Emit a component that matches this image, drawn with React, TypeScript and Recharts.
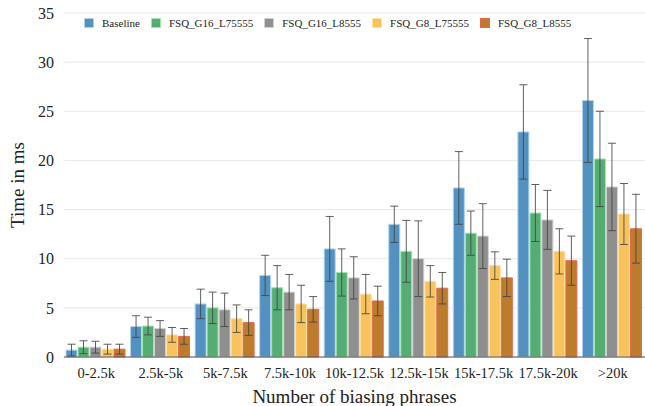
import React from 'react';
import { BarChart, Bar, XAxis, YAxis, CartesianGrid, Legend, ErrorBar, Label } from 'recharts';

const categories = ['0-2.5k', '2.5k-5k', '5k-7.5k', '7.5k-10k', '10k-12.5k', '12.5k-15k', '15k-17.5k', '17.5k-20k', '>20k'];

const baseline = [0.7, 3.1, 5.4, 8.3, 11.0, 13.5, 17.2, 22.9, 26.1];
const baselineErr = [0.6, 1.1, 1.5, 2.05, 3.3, 1.85, 3.7, 4.8, 6.3];
const g16L75555 = [1.0, 3.15, 5.0, 7.05, 8.6, 10.75, 12.6, 14.65, 20.15];
const g16L75555Err = [0.65, 0.9, 1.6, 2.25, 2.4, 3.15, 2.25, 2.9, 4.85];
const g16L8555 = [1.0, 2.9, 4.8, 6.6, 8.05, 10.0, 12.3, 13.95, 17.3];
const g16L8555Err = [0.6, 0.8, 1.7, 1.8, 2.15, 3.85, 3.3, 3.0, 4.45];
const g8L75555 = [0.8, 2.25, 3.9, 5.4, 6.4, 7.7, 9.3, 10.75, 14.55];
const g8L75555Err = [0.5, 0.75, 1.4, 1.9, 2.0, 1.6, 1.4, 2.3, 3.1];
const g8L8555 = [0.8, 2.1, 3.5, 4.85, 5.7, 7.0, 8.05, 9.8, 13.05];
const g8L8555Err = [0.5, 0.8, 1.3, 1.3, 1.5, 1.6, 1.9, 2.5, 3.5];

const yTicks = [0, 5, 10, 15, 20, 25, 30, 35];

const series = [
  { key: 'Baseline', values: baseline, errs: baselineErr, fill: '#5291c0', stroke: '#b3d3ec' },
  { key: 'FSQ_G16_L75555', values: g16L75555, errs: g16L75555Err, fill: '#55ad73', stroke: '#9fe8ad' },
  { key: 'FSQ_G16_L8555', values: g16L8555, errs: g16L8555Err, fill: '#8f8f8f', stroke: '#d2d2d2' },
  { key: 'FSQ_G8_L75555', values: g8L75555, errs: g8L75555Err, fill: '#f8c35d', stroke: '#fde3a6' },
  { key: 'FSQ_G8_L8555', values: g8L8555, errs: g8L8555Err, fill: '#bd7b2c', stroke: '#e9674e' },
];

const data = categories.map((c, i) => {
  const row: any = { name: c };
  series.forEach((s) => {
    row[s.key] = s.values[i];
    row[s.key + '_err'] = s.errs[i];
  });
  return row;
});

const FONT = '"Liberation Serif", "Times New Roman", serif';

const renderLegend = () => (
  <div style={{ display: 'flex', alignItems: 'center', fontFamily: FONT, fontSize: 11, color: '#222', whiteSpace: 'nowrap' }}>
    {series.map((s) => (
      <div key={s.key} style={{ display: 'flex', alignItems: 'center', marginRight: 11 }}>
        <div style={{ width: 8, height: 8, background: s.fill, border: `1px solid ${s.stroke}`, marginRight: 8 }} />
        <span>{s.key}</span>
      </div>
    ))}
  </div>
);

const renderYLabel = (props: any) => {
  const vb = props.viewBox || {};
  const cx = (vb.x || 0) + 17;
  const cy = (vb.y || 0) + (vb.height || 0) / 2;
  return (
    <text x={cx} y={cy} transform={`rotate(-90, ${cx}, ${cy})`} textAnchor="middle" dominantBaseline="central" fontFamily={FONT} fontSize={19} fill="#222">
      Time in ms
    </text>
  );
};

const renderXLabel = (props: any) => {
  const vb = props.viewBox || {};
  const cx = (vb.x || 0) + (vb.width || 0) / 2;
  const cy = (vb.y || 0) + 39;
  return (
    <text x={cx} y={cy} textAnchor="middle" dominantBaseline="central" fontFamily={FONT} fontSize={19} fill="#222">
      Number of biasing phrases
    </text>
  );
};

export default function App() {
  return (
    <div style={{ position: 'absolute', left: 0, top: 0, width: 645, height: 406, background: '#fff' }}>
      <BarChart width={645} height={406} data={data} margin={{ top: 13, right: 0, bottom: 0, left: 0 }} barCategoryGap={2} barGap={1}>
        <CartesianGrid horizontal vertical={false} stroke="#e8e8e8" />
        <XAxis dataKey="name" height={49} tickLine={false} axisLine={{ stroke: '#555' }} tickMargin={5}
          tick={{ fontSize: 14.5, fill: '#222', fontFamily: FONT }} interval={0}>
          <Label content={renderXLabel} />
        </XAxis>
        <YAxis width={64} domain={[0, 35]} ticks={yTicks} tickLine={false} axisLine={false} tickMargin={4}
          tick={{ fontSize: 16, fill: '#222', fontFamily: FONT }}>
          <Label content={renderYLabel} />
        </YAxis>
        <Legend layout="horizontal" verticalAlign="middle" align="center" content={renderLegend}
          wrapperStyle={{ top: 17, left: 84, width: 'auto' }} />
        {series.map((s) => (
          <Bar key={s.key} dataKey={s.key} fill={s.fill} stroke={s.stroke} strokeWidth={1} isAnimationActive={false}>
            <ErrorBar dataKey={s.key + '_err'} width={4} stroke="#444" strokeWidth={1} direction="y" strokeOpacity={0.85} />
          </Bar>
        ))}
      </BarChart>
    </div>
  );
}
